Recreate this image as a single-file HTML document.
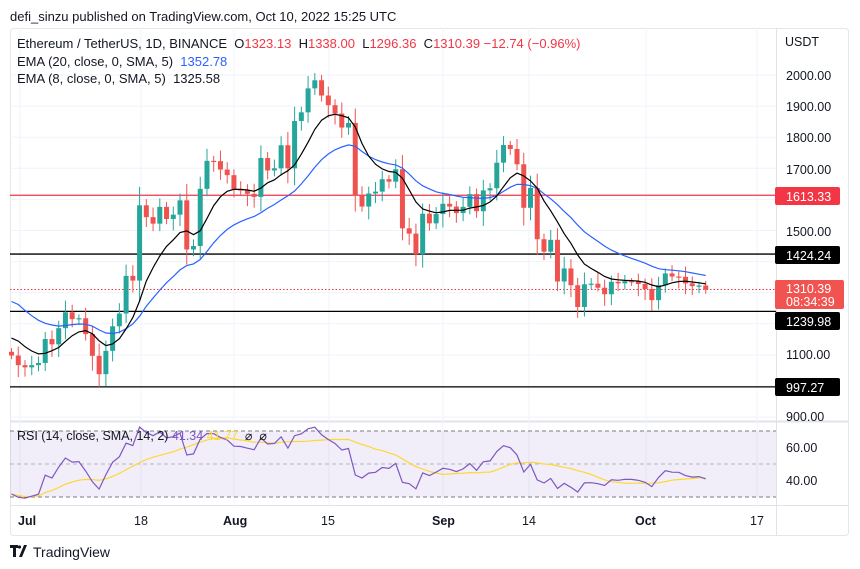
<!DOCTYPE html>
<html><head><meta charset="utf-8"><style>
body{margin:0;background:#fff;font-family:"Liberation Sans",sans-serif;}
svg{display:block}
</style></head><body>
<svg id="s" width="860" height="569" xmlns="http://www.w3.org/2000/svg" font-family="Liberation Sans, sans-serif">
<rect x="0" y="0" width="860" height="569" fill="#fff"/>
<text x="10" y="21" font-size="13" fill="#131722">defi_sinzu published on TradingView.com, Oct 10, 2022 15:25 UTC</text>
<rect x="10.5" y="28.5" width="838" height="507" rx="3" fill="none" stroke="#e6e6e6"/>
<line x1="776.5" y1="28" x2="776.5" y2="535" stroke="#e0e3eb"/>
<line x1="10" y1="421.5" x2="848" y2="421.5" stroke="#e0e3eb" stroke-width="2"/>
<line x1="10" y1="505.5" x2="848" y2="505.5" stroke="#e0e3eb"/>
<g id="grid"></g>
<rect x="10" y="431" width="766" height="66" fill="#7e57c2" fill-opacity="0.1"/>
<line x1="10" y1="431" x2="776" y2="431" stroke="#787b86" stroke-dasharray="4,3"/>
<line x1="10" y1="464" x2="776" y2="464" stroke="#b2b5be" stroke-dasharray="4,3"/>
<line x1="10" y1="497" x2="776" y2="497" stroke="#787b86" stroke-dasharray="4,3"/>
<g id="hl"></g>
<g id="c"></g>
<g id="e"></g>
<g id="r"></g>
<text x="17" y="48" font-size="13" fill="#131722" xml:space="preserve">Ethereum / TetherUS, 1D, BINANCE  O<tspan fill="#f23645">1323.13</tspan>  H<tspan fill="#f23645">1338.00</tspan>  L<tspan fill="#f23645">1296.36</tspan>  C<tspan fill="#f23645">1310.39 −12.74 (−0.96%)</tspan></text>
<text x="17" y="66" font-size="13" fill="#131722" xml:space="preserve">EMA (20, close, 0, SMA, 5)  <tspan fill="#2962ff">1352.78</tspan></text>
<text x="17" y="83" font-size="13" fill="#131722" xml:space="preserve">EMA (8, close, 0, SMA, 5)  <tspan>1325.58</tspan></text>
<text x="17" y="440" font-size="12.5" fill="#131722" xml:space="preserve">RSI (14, close, SMA, 14, 2) <tspan fill="#7e57c2">41.34</tspan> <tspan fill="#fdd835">41.77</tspan>  ⌀  ⌀</text>
<g font-size="12.5" fill="#131722">
<text x="785" y="46">USDT</text>
<text x="786" y="80">2000.00</text><text x="786" y="111">1900.00</text><text x="786" y="142">1800.00</text>
<text x="786" y="174">1700.00</text><text x="786" y="236">1500.00</text><text x="786" y="359">1100.00</text>
<text x="786" y="421">900.00</text><text x="786" y="452">60.00</text><text x="786" y="485">40.00</text>
</g>
<rect x="775" y="187" width="65" height="18" rx="2" fill="#f23645"/><text x="786" y="201" font-size="12.5" fill="#fff">1613.33</text>
<rect x="775" y="246" width="65" height="18" rx="2" fill="#000"/><text x="786" y="260" font-size="12.5" fill="#fff">1424.24</text>
<rect x="775" y="280" width="69" height="29" rx="2" fill="#f05350"/><text x="786" y="293" font-size="12.5" fill="#fff">1310.39</text><text x="786" y="306" font-size="12.5" fill="#fff">08:34:39</text>
<rect x="775" y="312" width="65" height="18" rx="2" fill="#000"/><text x="786" y="326" font-size="12.5" fill="#fff">1239.98</text>
<rect x="775" y="378" width="65" height="18" rx="2" fill="#000"/><text x="786" y="392" font-size="12.5" fill="#fff">997.27</text>
<g font-size="12.5" fill="#131722">
<text x="18" y="525" font-weight="bold">Jul</text><text x="134" y="525">18</text><text x="223" y="525" font-weight="bold">Aug</text>
<text x="321" y="525">15</text><text x="432" y="525" font-weight="bold">Sep</text><text x="522" y="525">14</text>
<text x="635" y="525" font-weight="bold">Oct</text><text x="750" y="525">17</text>
</g>
<rect x="10" y="545" width="8" height="3" fill="#131722"/><rect x="13" y="545" width="3" height="12" fill="#131722"/><polygon points="19,557 24,545 27,545 22,557" fill="#131722"/><circle cx="19.5" cy="547" r="1.6" fill="#131722"/>
<text x="33" y="557" font-size="14" fill="#131722">TradingView</text>
</svg>
<script>
var C=[1098,1067,1060,1067,1074,1151,1134,1186,1237,1215,1218,1167,1097,1038,1113,1192,1233,1354,1339,1581,1543,1522,1576,1537,1551,1597,1439,1450,1634,1724,1723,1696,1678,1632,1630,1618,1608,1733,1693,1700,1774,1700,1852,1880,1957,1983,1934,1903,1876,1831,1846,1612,1577,1619,1625,1665,1657,1697,1507,1490,1424,1554,1523,1553,1586,1577,1556,1576,1617,1562,1629,1636,1718,1775,1762,1713,1573,1637,1472,1432,1470,1336,1378,1324,1254,1327,1329,1316,1295,1335,1330,1337,1336,1328,1312,1276,1324,1362,1352,1351,1330,1321,1323,1310];
var NS="http://www.w3.org/2000/svg";
function el(p,t,a){var e=document.createElementNS(NS,t);for(var k in a)e.setAttribute(k,a[k]);document.getElementById(p).appendChild(e);return e;}
function X(i){return 25+(i-2)*6.74;}
function Y(p){return 75+(2000-p)*0.311;}
[20,141,234,329,443,529,646,757].forEach(function(x){el("grid","line",{x1:x,y1:28,x2:x,y2:505,stroke:"#f0f3fa"});});
[2000,1900,1800,1700,1600,1500,1400,1300,1200,1100,1000,900].forEach(function(p){el("grid","line",{x1:10,y1:Y(p),x2:776,y2:Y(p),stroke:"#f0f3fa"});});
el("hl","line",{x1:10,y1:Y(1613.33),x2:776,y2:Y(1613.33),stroke:"#f23645","stroke-width":1.2});
[1424.24,1239.98,997.27].forEach(function(p){el("hl","line",{x1:10,y1:Y(p),x2:776,y2:Y(p),stroke:"#000","stroke-width":1.3});});
el("hl","line",{x1:10,y1:Y(1310.39),x2:776,y2:Y(1310.39),stroke:"#f23645","stroke-dasharray":"1.5,2"});
var prev=1110;
for(var i=0;i<C.length;i++){
 var o=prev,c=C[i];if(i==C.length-1)o=1323.13;
 var up=c>=o,col=up?"#26a69a":"#ef5350";
 var r=Math.abs(c-o),h=Math.max(o,c)+10+((i*37)%23)+r*0.15,l=Math.min(o,c)-10-((i*53)%29)-r*0.15;
 if(i==C.length-1){h=1338;l=1296.36;}
 var x=X(i);
 el("c","line",{x1:x,y1:Y(h),x2:x,y2:Y(l),stroke:col,"stroke-width":1});
 var t=Y(Math.max(o,c)),b=Y(Math.min(o,c));
 el("c","rect",{x:x-2.5,y:t,width:5,height:Math.max(1.2,b-t),fill:col});
 prev=c;
}
function ema(n,init){var k=2/(n+1),v=init,out=[];C.forEach(function(c){v=c*k+v*(1-k);out.push(v);});return out;}
function sma(a,n){return a.map(function(v,i){var s=0,m=0;for(var j=Math.max(0,i-n+1);j<=i;j++){s+=a[j];m++;}return s/m;});}
var e20=sma(ema(20,1290),2),e8=sma(ema(8,1170),2);
function path(a,f){return a.map(function(v,i){return (i?"L":"M")+X(i).toFixed(1)+","+f(v).toFixed(1);}).join("");}
el("e","path",{d:path(e20,Y),fill:"none",stroke:"#2962ff","stroke-width":1.2});
el("e","path",{d:path(e8,Y),fill:"none",stroke:"#000","stroke-width":1.2});
var ag=12,al=24,rsi=[],p0=1120;
C.forEach(function(c){var d=c-p0;p0=c;ag=(ag*13+Math.max(d,0))/14;al=(al*13+Math.max(-d,0))/14;rsi.push(100-100/(1+ag/al));});
var rs=sma(rsi,14);
function RY(r){return 464-(r-50)*1.65;}
el("r","path",{d:path(rs,RY),fill:"none",stroke:"#fdd835","stroke-width":1.2});
el("r","path",{d:path(rsi,RY),fill:"none",stroke:"#7e57c2","stroke-width":1.2});
</script>
</body></html>
